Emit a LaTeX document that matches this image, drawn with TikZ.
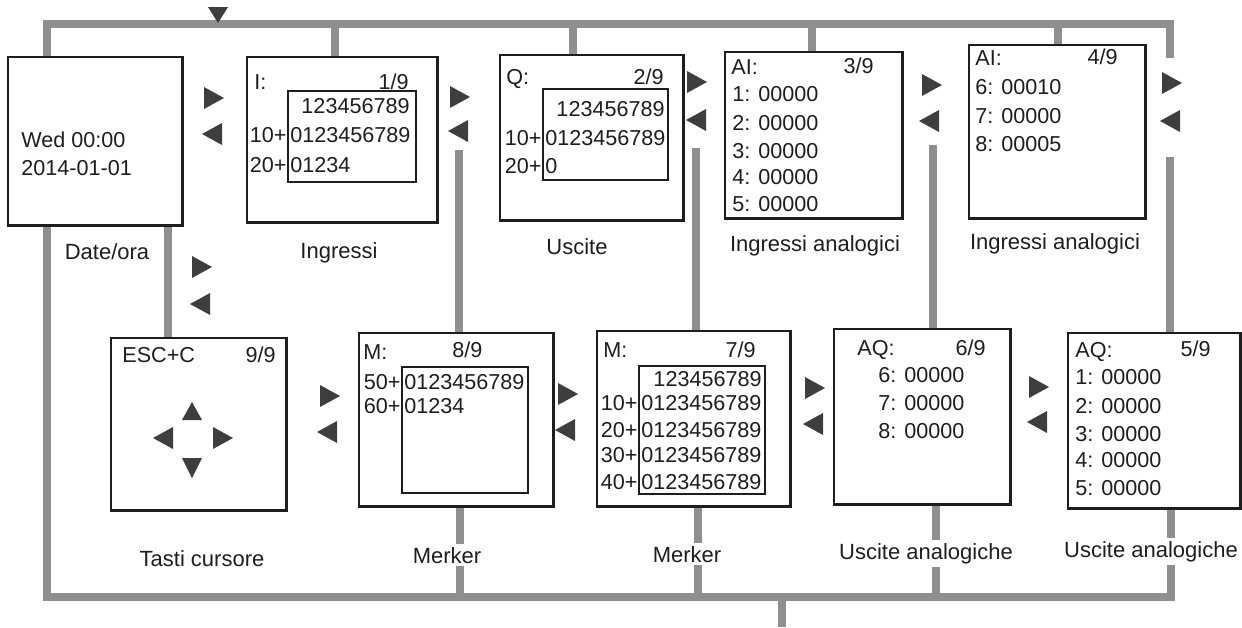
\documentclass[tikz,border=0pt]{standalone}
\usepackage{fontspec}
\setmainfont{Liberation Sans}
\usetikzlibrary{fit}
\definecolor{busgray}{HTML}{8F8F92}
\definecolor{navfill}{HTML}{3E3E3E}
\definecolor{ink}{HTML}{1E1E1E}
\tikzset{
  screen/.style={draw=ink, line width=0.75pt, fill=white, inner sep=0pt},
  inbox/.style={draw=ink, line width=0.6pt, inner sep=0pt},
  bus/.style={draw=busgray, line width=3.6pt, line join=miter},
  txt/.style={inner sep=0pt, anchor=base west, font=\fontsize{10.8}{13}\selectfont, text=ink},
  txtr/.style={txt, anchor=base east},
  lbl/.style={inner sep=1.5pt, anchor=base, fill=white, font=\fontsize{11}{13}\selectfont, text=ink},
  navR/.pic={\fill[navfill] (-10,-11) -- (10,0) -- (-10,11) -- cycle;},
  navL/.pic={\fill[navfill] (10,-11) -- (-10,0) -- (10,11) -- cycle;},
  navU/.pic={\fill[navfill] (-10,9) -- (0,-9) -- (10,9) -- cycle;},
  navD/.pic={\fill[navfill] (-10,-10) -- (0,10) -- (10,-10) -- cycle;},
  navDs/.pic={\fill[navfill] (-10,-8) -- (0,8) -- (10,-8) -- cycle;}
}
\begin{document}
\begin{tikzpicture}[x=0.5pt,y=-0.5pt]
\useasboundingbox (0,0) rectangle (1242,627);

% ---------- screens ----------
\node[screen, fit={(8,57)(182,225)}] (date) {};
\node[screen, fit={(247,57)(437,222)}] (b1) {};
\node[screen, fit={(500,55)(683,220)}] (b2) {};
\node[screen, fit={(725,52)(902,218)}] (b3) {};
\node[screen, fit={(969,45)(1145,218)}] (b4) {};
\node[screen, fit={(111,338)(286,510)}] (b9) {};
\node[screen, fit={(359,333)(553,506)}] (b8) {};
\node[screen, fit={(597,331)(790,506)}] (b7) {};
\node[screen, fit={(834,329)(1010,504)}] (b6) {};
\node[screen, fit={(1068,333)(1240,508)}] (b5) {};

% ---------- bus coordinates ----------
\coordinate (tl) at (47,24);
\coordinate (tr) at (1170,24);
\coordinate (rg1) at (1170,58);
\coordinate (rg2) at (1170,157);
\coordinate (j1) at (335,24);
\coordinate (j2) at (573,24);
\coordinate (j3) at (812,24);
\coordinate (j4) at (1058,24);
\coordinate (d9) at (168,300);
\coordinate (m1) at (459,150);
\coordinate (m2) at (696,148);
\coordinate (m3) at (933,145);
\coordinate (bl) at (47,597);
\coordinate (br) at (1171,597);
\coordinate (u1) at (460,597);
\coordinate (u2) at (698,597);
\coordinate (u3) at (936,597);
\coordinate (out) at (782,627);

% ---------- bus lines ----------
\draw[bus] (tl |- date.north) -- (tl) -- (tr) -- (rg1);
\draw[bus] (rg2) -- (rg2 |- b5.north);
\draw[bus] (j1) -- (j1 |- b1.north);
\draw[bus] (j2) -- (j2 |- b2.north);
\draw[bus] (j3) -- (j3 |- b3.north);
\draw[bus] (j4) -- (j4 |- b4.north);
\draw[bus] (tl |- date.south) -- (bl) -- (br) -- (br |- b5.south);
\draw[bus] (date.south -| d9) -- (d9 |- b9.north);
\draw[bus] (m1) -- (m1 |- b8.north);
\draw[bus] (m2) -- (m2 |- b7.north);
\draw[bus] (m3) -- (m3 |- b6.north);
\draw[bus] (u1) -- (u1 |- b8.south);
\draw[bus] (u2) -- (u2 |- b7.south);
\draw[bus] (u3) -- (u3 |- b6.south);
\draw[bus] (out |- bl) -- (out);

% redraw screen borders over bus ends
\foreach \n in {date,b1,b2,b3,b4,b9,b8,b7,b6,b5}
  \draw[draw=ink, line width=0.75pt] (\n.north west) rectangle (\n.south east);

% ---------- inner boxes ----------
\node[inbox, fit={(288,91)(416,182)}] (i1) {};
\node[inbox, fit={(543,89)(668,180)}] (i2) {};
\node[inbox, fit={(402,367)(528,493)}] (i8) {};
\node[inbox, fit={(639,366)(765,494)}] (i7) {};

% ---------- screen texts ----------
\node[txt] (dt1) at (21,147) {Wed 00:00};
\node[txt] (dt2) at (21,175) {2014-01-01};

\node[txt] (a1) at (254,89) {I:};
\node[txtr] (a2) at (409,89) {1/9};
\node[txtr] (a3) at (410,113) {123456789};
\node[txtr] (a4) at (287,142) {10+};
\node[txt] (a5) at (290,142) {0123456789};
\node[txtr] (a6) at (287,172) {20+};
\node[txt] (a7) at (290,172) {01234};

\node[txt] (q1) at (506,84) {Q:};
\node[txtr] (q2) at (664,84) {2/9};
\node[txtr] (q3) at (665,116) {123456789};
\node[txtr] (q4) at (542,145) {10+};
\node[txt] (q5) at (545,145) {0123456789};
\node[txtr] (q6) at (542,173) {20+};
\node[txt] (q7) at (545,173) {0};

\node[txt] (c1) at (731,74) {AI:};
\node[txtr] (c2) at (874,73) {3/9};
\node[txt] (c3) at (732,101) {1: 00000};
\node[txt] (c4) at (732,130) {2: 00000};
\node[txt] (c5) at (732,158) {3: 00000};
\node[txt] (c6) at (732,184) {4: 00000};
\node[txt] (c7) at (732,211) {5: 00000};

\node[txt] (e1) at (975,65) {AI:};
\node[txtr] (e2) at (1118,64) {4/9};
\node[txt] (e3) at (975,94) {6: 00010};
\node[txt] (e4) at (975,123) {7: 00000};
\node[txt] (e5) at (975,151) {8: 00005};

\node[txt] (k1) at (122,362) {ESC+C};
\node[txtr] (k2) at (276,362) {9/9};

\node[txt] (g1) at (363,359) {M:};
\node[txt] (g2) at (452,357) {8/9};
\node[txtr] (g3) at (401,389) {50+};
\node[txt] (g4) at (404,389) {0123456789};
\node[txtr] (g5) at (401,413) {60+};
\node[txt] (g6) at (404,413) {01234};

\node[txt] (h1) at (603,357) {M:};
\node[txtr] (h2) at (756,357) {7/9};
\node[txtr] (h3) at (762,386) {123456789};
\node[txtr] (h4) at (638,410) {10+};
\node[txt] (h5) at (641,410) {0123456789};
\node[txtr] (h6) at (638,437) {20+};
\node[txt] (h7) at (641,437) {0123456789};
\node[txtr] (h8) at (638,462) {30+};
\node[txt] (h9) at (641,462) {0123456789};
\node[txtr] (h10) at (638,489) {40+};
\node[txt] (h11) at (641,489) {0123456789};

\node[txt] (p1) at (857,355) {AQ:};
\node[txtr] (p2) at (986,355) {6/9};
\node[txt] (p3) at (878,382) {6: 00000};
\node[txt] (p4) at (878,410) {7: 00000};
\node[txt] (p5) at (878,438) {8: 00000};

\node[txt] (s1) at (1075,357) {AQ:};
\node[txtr] (s2) at (1211,356) {5/9};
\node[txt] (s3) at (1075,384) {1: 00000};
\node[txt] (s4) at (1075,413) {2: 00000};
\node[txt] (s5) at (1075,441) {3: 00000};
\node[txt] (s6) at (1075,467) {4: 00000};
\node[txt] (s7) at (1075,495) {5: 00000};

% ---------- labels ----------
\node[lbl] (ldate) at (107,259) {Date/ora};
\node[lbl] (lb1) at (339,258) {Ingressi};
\node[lbl] (lb2) at (577,254) {Uscite};
\node[lbl] (lb3) at (815,251) {Ingressi analogici};
\node[lbl] (lb4) at (1055,249) {Ingressi analogici};
\node[lbl] (lb9) at (202,566) {Tasti cursore};
\node[lbl] (lb8) at (447,563) {Merker};
\node[lbl] (lb7) at (687,562) {Merker};
\node[lbl] (lb6) at (926,559) {Uscite analogiche};
\node[lbl] (lb5) at (1151,557) {Uscite analogiche};

% ---------- navigation triangles ----------
\pic at (218,15) {navDs};
\pic at (214,98) {navR};   \pic at (212,134) {navL};
\pic at (460,97) {navR};   \pic at (458,131) {navL};
\pic at (697,82) {navR};   \pic at (696,120) {navL};
\pic at (932,85) {navR};   \pic at (929,121) {navL};
\pic at (1172,83) {navR};  \pic at (1170,121) {navL};
\pic at (202,267) {navR};  \pic at (200,304) {navL};
\pic at (330,396) {navR};  \pic at (327,432) {navL};
\pic at (568,394) {navR};  \pic at (565,430) {navL};
\pic at (815,388) {navR};  \pic at (813,424) {navL};
\pic at (1039,387) {navR}; \pic at (1037,422) {navL};
% cursor keys
\pic at (192,411) {navU};
\pic at (192,468) {navD};
\pic at (163,438) {navL};
\pic at (223,438) {navR};
\end{tikzpicture}
\end{document}
